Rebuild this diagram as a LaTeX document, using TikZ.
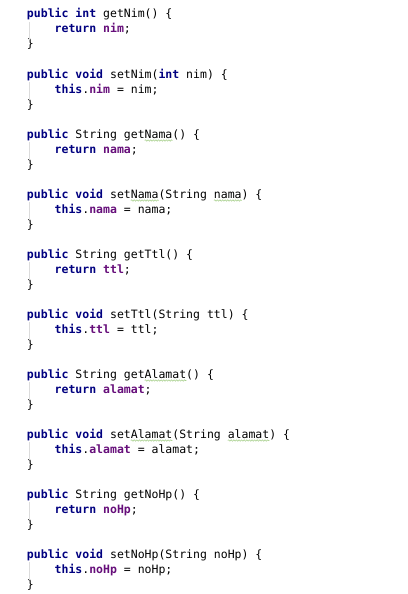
\documentclass[tikz,border=0pt]{standalone}
\usepackage{fontspec}
\setmonofont{DejaVu Sans Mono}
\usetikzlibrary{decorations.pathmorphing}
\definecolor{kwc}{HTML}{000080}
\definecolor{fldc}{HTML}{660E7A}
\definecolor{guidec}{HTML}{DCDCDC}
\definecolor{typoc}{HTML}{A8D08D}
\newcommand{\kw}[1]{{\bfseries\color{kwc}#1}}
\newcommand{\fld}[1]{{\bfseries\color{fldc}#1}}
\tikzset{
  codeline/.style={anchor=base west, inner sep=0pt, outer sep=0pt,
    font=\fontsize{11.5}{15}\selectfont\ttfamily, text=black},
  guide/.style={draw=guidec, line width=0.6pt},
  typo/.style={draw=typoc, line width=0.55pt,
    decorate, decoration={snake, amplitude=0.7pt, segment length=2.6pt}}
}
\begin{document}
\begin{tikzpicture}[x=1pt, y=-1pt]
\useasboundingbox[fill=white] (0,0) rectangle (407,594);
\def\cw{6.924}
\def\lx{27}
\def\ix{54.7}
% block 0
\node[codeline] (l0) at (\lx,18) {\kw{public} \kw{int} getNim() \{};
\node[codeline] (l1) at (\ix,33) {\kw{return} \fld{nim};};
\node[codeline] (l2) at (\lx,48) {\}};
% block 1
\node[codeline] (l4) at (\lx,78) {\kw{public} \kw{void} setNim(\kw{int} nim) \{};
\node[codeline] (l5) at (\ix,93) {\kw{this}.\fld{nim} = nim;};
\node[codeline] (l6) at (\lx,108) {\}};
% block 2
\node[codeline] (l8) at (\lx,138) {\kw{public} String getNama() \{};
\node[codeline] (l9) at (\ix,153) {\kw{return} \fld{nama};};
\node[codeline] (l10) at (\lx,168) {\}};
% block 3
\node[codeline] (l12) at (\lx,198) {\kw{public} \kw{void} setNama(String nama) \{};
\node[codeline] (l13) at (\ix,213) {\kw{this}.\fld{nama} = nama;};
\node[codeline] (l14) at (\lx,228) {\}};
% block 4
\node[codeline] (l16) at (\lx,258) {\kw{public} String getTtl() \{};
\node[codeline] (l17) at (\ix,273) {\kw{return} \fld{ttl};};
\node[codeline] (l18) at (\lx,288) {\}};
% block 5
\node[codeline] (l20) at (\lx,318) {\kw{public} \kw{void} setTtl(String ttl) \{};
\node[codeline] (l21) at (\ix,333) {\kw{this}.\fld{ttl} = ttl;};
\node[codeline] (l22) at (\lx,348) {\}};
% block 6
\node[codeline] (l24) at (\lx,378) {\kw{public} String getAlamat() \{};
\node[codeline] (l25) at (\ix,393) {\kw{return} \fld{alamat};};
\node[codeline] (l26) at (\lx,408) {\}};
% block 7
\node[codeline] (l28) at (\lx,438) {\kw{public} \kw{void} setAlamat(String alamat) \{};
\node[codeline] (l29) at (\ix,453) {\kw{this}.\fld{alamat} = alamat;};
\node[codeline] (l30) at (\lx,468) {\}};
% block 8
\node[codeline] (l32) at (\lx,498) {\kw{public} String getNoHp() \{};
\node[codeline] (l33) at (\ix,513) {\kw{return} \fld{noHp};};
\node[codeline] (l34) at (\lx,528) {\}};
% block 9
\node[codeline] (l36) at (\lx,558) {\kw{public} \kw{void} setNoHp(String noHp) \{};
\node[codeline] (l37) at (\ix,573) {\kw{this}.\fld{noHp} = noHp;};
\node[codeline] (l38) at (\lx,588) {\}};
% indent guides
\foreach \b in {18,78,138,198,258,318,378,438,498,558}{
  \draw[guide] (29,\b+4) -- (29,\b+22);
}
% typo underlines
\draw[typo] (\lx+17*\cw,140.5) -- (\lx+21*\cw,140.5);
\draw[typo] (\lx+15*\cw,200.5) -- (\lx+19*\cw,200.5);
\draw[typo] (\lx+27*\cw,200.5) -- (\lx+31*\cw,200.5);
\draw[typo] (\lx+17*\cw,380.5) -- (\lx+23*\cw,380.5);
\draw[typo] (\lx+15*\cw,440.5) -- (\lx+21*\cw,440.5);
\draw[typo] (\lx+29*\cw,440.5) -- (\lx+35*\cw,440.5);
\end{tikzpicture}
\end{document}
